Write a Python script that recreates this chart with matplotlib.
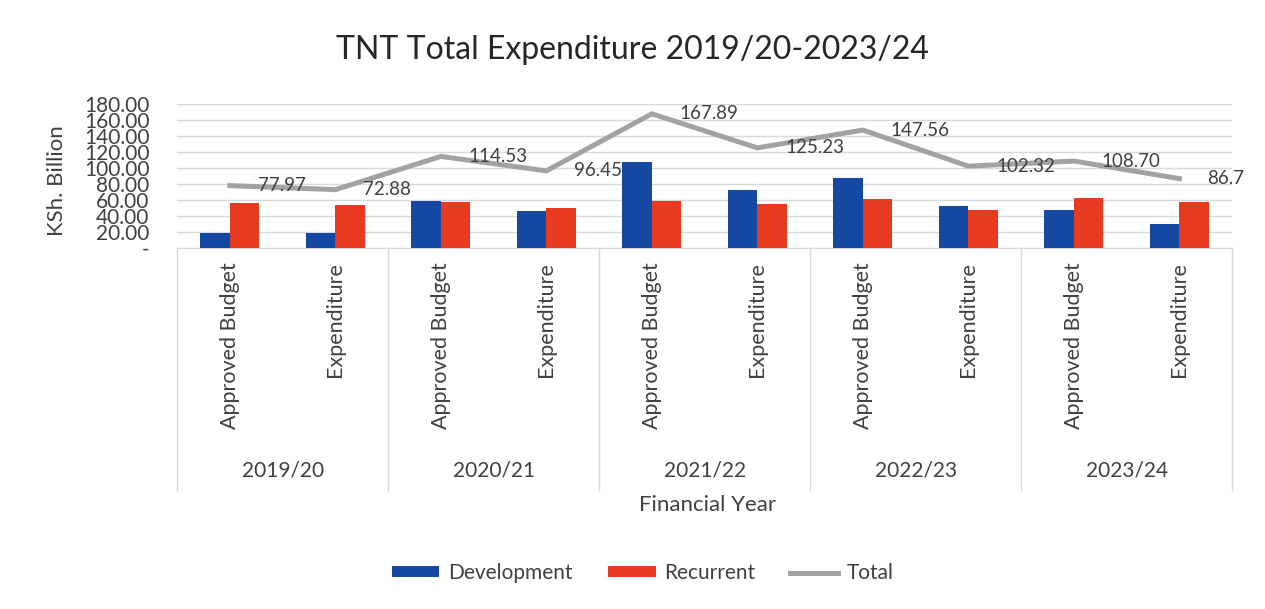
import matplotlib
matplotlib.use("Agg")
import matplotlib.pyplot as plt
import matplotlib.transforms as mtransforms
import numpy as np

plt.rcParams['font.family'] = ['Lato', 'DejaVu Sans']

years = ["2019/20", "2020/21", "2021/22", "2022/23", "2023/24"]
sub_labels = ["Approved Budget", "Expenditure"]
development = [19, 19, 59, 46, 108, 72, 87, 53, 47, 30]
recurrent = [56, 54, 57, 50, 59, 55, 61, 47, 62, 58]
total = [77.97, 72.88, 114.53, 96.45, 167.89, 125.23, 147.56, 102.32, 108.70, 86.7]
total_labels = ["77.97", "72.88", "114.53", "96.45", "167.89", "125.23", "147.56", "102.32", "108.70", "86.7"]
yticks = [0, 20, 40, 60, 80, 100, 120, 140, 160, 180]
ytick_labels = ["-", "20.00", "40.00", "60.00", "80.00", "100.00", "120.00", "140.00", "160.00", "180.00"]

BLUE = "#1448A3"
RED = "#E83A1E"
GRAY = "#A2A2A2"
TXT = "#404040"

fig = plt.figure(figsize=(12.65, 6.09), dpi=100)
ax = fig.add_axes([0.140, 0.593, 0.834, 0.236])

n = len(total)
x = np.arange(n)
w = 0.28
b1 = ax.bar(x - w / 2, development, w, color=BLUE, label="Development", zorder=3)
b2 = ax.bar(x + w / 2, recurrent, w, color=RED, label="Recurrent", zorder=3)
l1, = ax.plot(x, total, color=GRAY, lw=3.6, label="Total", zorder=4, solid_joinstyle='miter')

for xi, yi, lab in zip(x, total, total_labels):
    ax.annotate(lab, (xi, yi), xytext=(20, 0), textcoords="offset points",
                ha="left", va="center", fontsize=13.5, color=TXT, zorder=5)

ax.set_xlim(-0.5, n - 0.5)
ax.set_ylim(0, 180)
ax.set_yticks(yticks)
ax.set_yticklabels(ytick_labels, fontsize=15, color=TXT)
ax.yaxis.grid(True, color="#D9D9D9", lw=1)
ax.set_axisbelow(True)
for s in ["top", "right", "left"]:
    ax.spines[s].set_visible(False)
ax.spines["bottom"].set_color("#D9D9D9")
ax.tick_params(axis="y", length=0, pad=20)
ax.tick_params(axis="x", length=0, pad=10)

ax.set_xticks(x)
ax.set_xticklabels([sub_labels[i % 2] for i in range(n)], rotation=90,
                   fontsize=15.5, color=TXT, va="top", ha="center")

trans = mtransforms.blended_transform_factory(ax.transData, fig.transFigure)
y_axis_bottom = 0.593
for b in range(len(years) + 1):
    xb = b * 2 - 0.5
    ax.plot([xb, xb], [y_axis_bottom, 0.195], transform=trans, color="#D9D9D9",
            lw=1, clip_on=False)
for i, yr in enumerate(years):
    ax.text(2 * i + 0.5, 0.228, yr, transform=trans, ha="center", va="center",
            fontsize=15, color=TXT)

fig.text(0.559, 0.171, "Financial Year", ha="center", va="center", fontsize=16, color=TXT)
fig.text(0.045, 0.704, "KSh. Billion", rotation=90, ha="center", va="center",
         fontsize=16, color=TXT)
fig.text(0.500, 0.918, "TNT Total Expenditure 2019/20-2023/24", ha="center",
         va="center", fontsize=23, color="#262626")

fig.legend([b1, b2, l1], ["Development", "Recurrent", "Total"], loc="center",
           bbox_to_anchor=(0.508, 0.059), ncol=3,
           frameon=False, fontsize=15, handlelength=2.3, handleheight=0.45,
           handletextpad=0.4, columnspacing=1.7, labelcolor=TXT)

fig.savefig("out.png", dpi=100, facecolor="white")
